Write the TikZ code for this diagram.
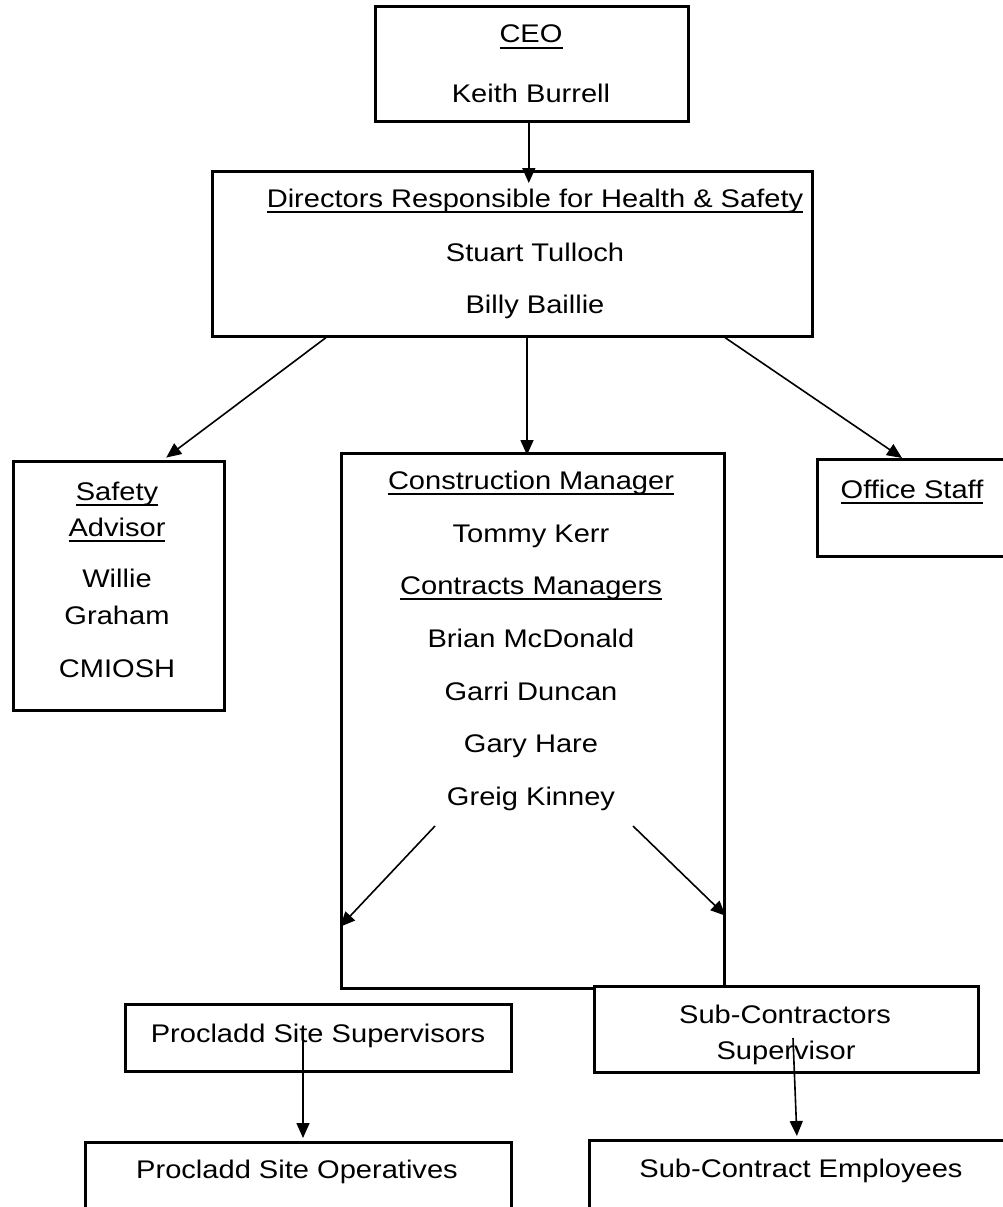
\documentclass[tikz,border=0pt]{standalone}
\usepackage{fontspec}
\setmainfont{Liberation Sans}[FakeStretch=1.14]
\usetikzlibrary{arrows.meta}

\newsavebox{\hdrbox}
\newcommand{\hdr}[1]{\sbox{\hdrbox}{#1}\rlap{\rule[-6.3pt]{\wd\hdrbox}{2.6pt}}\usebox{\hdrbox}}

\begin{document}
\begin{tikzpicture}[
    x=1pt, y=-1pt,
    box/.style={rectangle, draw=black, line width=2.6pt, fill=white, anchor=north west, inner sep=0pt},
    txt/.style={anchor=base, inner sep=0pt, font=\fontsize{25.5}{36}\selectfont},
    arrow/.style={line width=1.6pt, -{Triangle[length=15pt, width=13pt]}}
]
\clip (0,0) rectangle (1003,1207);

% Boxes
\node (ceo) [box, minimum width=313pt, minimum height=115pt] at (374,5) {};
\node (dir) [box, minimum width=600pt, minimum height=165pt] at (211,170) {};
\node (safe) [box, minimum width=211pt, minimum height=249pt] at (12,460) {};
\node (con) [box, minimum width=383pt, minimum height=535pt] at (340,452) {};
\node (off) [box, minimum width=200pt, minimum height=97pt] at (816,458) {};
\node (psup) [box, minimum width=386pt, minimum height=67pt] at (124,1003) {};
\node (ssup) [box, minimum width=384pt, minimum height=86pt] at (593,985) {};
\node (pop) [box, minimum width=426pt, minimum height=100pt] at (84,1141) {};
\node (semp) [box, minimum width=430pt, minimum height=100pt] at (588,1139) {};

% Texts
\node (ceoT) [txt] at (531,43) {\hdr{CEO}};
\node (ceoN) [txt] at (531,102) {Keith Burrell};
\node (dirT) [txt] at (535,207) {\hdr{Directors Responsible for Health \& Safety}};
\node (dirA) [txt] at (535,261) {Stuart Tulloch};
\node (dirB) [txt] at (535,313) {Billy Baillie};
\node (safeT1) [txt] at (117,500) {\hdr{Safety}};
\node (safeT2) [txt] at (117,536) {\hdr{Advisor}};
\node (safeN1) [txt] at (117,587) {Willie};
\node (safeN2) [txt] at (117,624) {Graham};
\node (safeQ) [txt] at (117,677) {CMIOSH};
\node (conT) [txt] at (531,489) {\hdr{Construction Manager}};
\node (conN) [txt] at (531,542) {Tommy Kerr};
\node (cmT) [txt] at (531,594) {\hdr{Contracts Managers}};
\node (cmA) [txt] at (531,647) {Brian McDonald};
\node (cmB) [txt] at (531,700) {Garri Duncan};
\node (cmC) [txt] at (531,752) {Gary Hare};
\node (cmD) [txt] at (531,805) {Greig Kinney};
\node (offT) [txt] at (912,498) {\hdr{Office Staff}};
\node (psupT) [txt] at (318,1042) {Procladd Site Supervisors};
\node (ssupT1) [txt] at (785,1023) {Sub-Contractors};
\node (ssupT2) [txt] at (786,1059) {Supervisor};
\node (popT) [txt] at (297,1178) {Procladd Site Operatives};
\node (sempT) [txt] at (801,1177) {Sub-Contract Employees};

% Arrows
\coordinate (gkL) at (435,826);
\coordinate (gkR) at (633,826);
\coordinate (psupA) at (303,1037);
\coordinate (ssupA) at (793,1038);

\draw [arrow, shorten >=-13pt] ([xshift=-3pt]ceo.south) -- ([xshift=-3pt]ceo.south |- dir.north);
\draw [arrow, shorten >=4pt] ([xshift=115pt]dir.south west) -- ([xshift=151pt]safe.north west);
\draw [arrow, shorten >=-3pt] ([xshift=187pt]con.north west |- dir.south) -- ([xshift=187pt]con.north west);
\draw [arrow] ([xshift=514pt]dir.south west) -- ([xshift=86pt]off.north west);
\draw [arrow] (gkL) -- ([yshift=-206pt]con.west);
\draw [arrow] (gkR) -- ([yshift=-195pt]con.east);
\draw [arrow, shorten >=3pt] (psupA) -- (psupA |- pop.north);
\draw [arrow, shorten >=3pt] (ssupA) -- ([xshift=209pt]semp.north west);

\end{tikzpicture}
\end{document}
